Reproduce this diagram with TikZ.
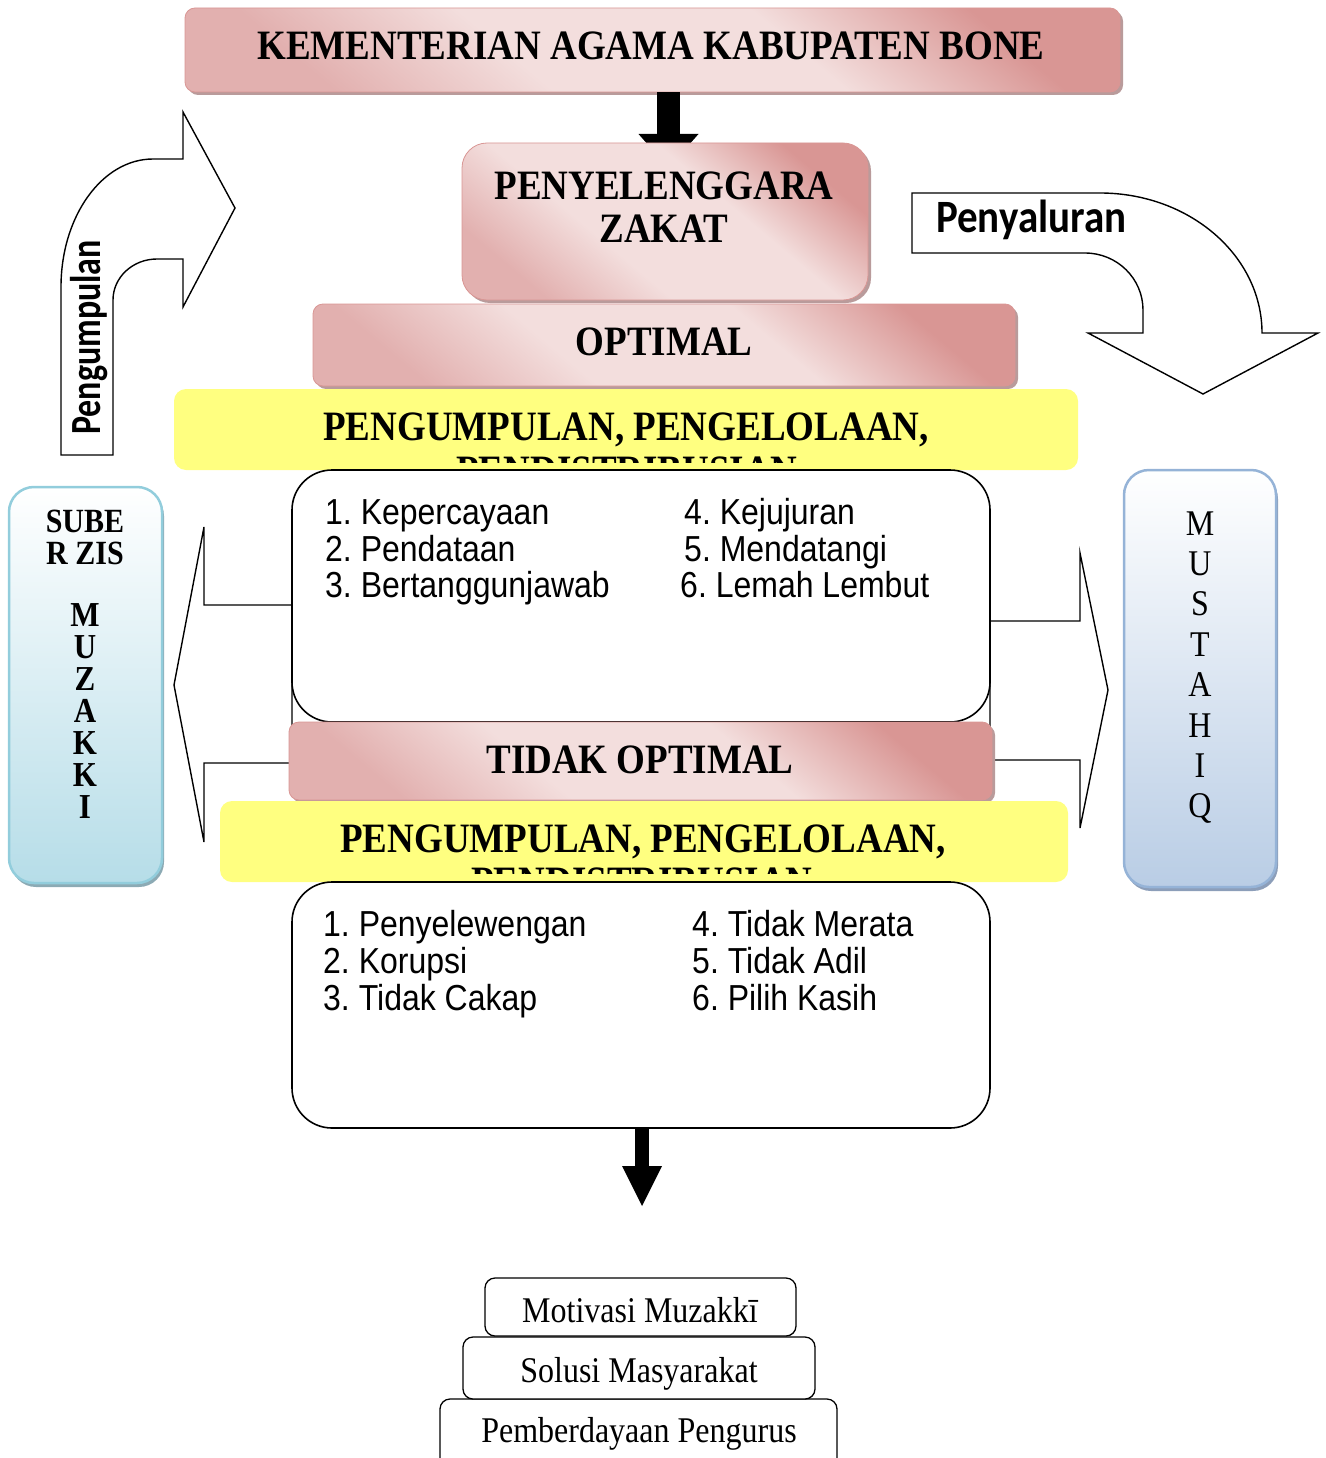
\documentclass[tikz,border=0pt]{standalone}
\usepackage{fontspec}
\setmainfont{Liberation Serif}
\newfontfamily\arialf{Liberation Sans}
\newfontfamily\calibf{Carlito}
\usepackage{graphicx}
\usetikzlibrary{shadows,calc}
\definecolor{pdark}{RGB}{217,150,148}
\definecolor{pmid}{RGB}{226,176,175}
\definecolor{plight}{RGB}{243,222,221}
\definecolor{pshadow}{RGB}{185,155,155}
\definecolor{yel}{RGB}{255,255,128}
\definecolor{blueLb}{RGB}{146,205,220}
\definecolor{blueLf}{RGB}{182,221,232}
\definecolor{blueLs}{RGB}{140,170,180}
\definecolor{blueMb}{RGB}{149,179,215}
\definecolor{blueMf}{RGB}{185,205,229}
\definecolor{blueMs}{RGB}{140,158,185}
\pgfdeclareverticalshading{pinkshade}{100bp}{color(0bp)=(pmid); color(25bp)=(pmid); color(40bp)=(plight); color(60bp)=(plight); color(75bp)=(pdark); color(100bp)=(pdark)}
\newcommand\tx[1]{\scalebox{1}[1.13]{#1}}
\newcommand\hd{\fontsize{37}{40}\selectfont\bfseries}
\newcommand\ls{\arialf\fontsize{32}{36}\selectfont}
\newcommand\bt{\fontsize{32}{36}\selectfont}
\frenchspacing
\begin{document}
\begin{tikzpicture}[x=1pt,y=-1pt,
  pinkbox/.style={draw=pdark, line width=0.8pt, shading=pinkshade, shading angle=-40, rounded corners=10pt, inner sep=0pt, outer sep=0pt, drop shadow={shadow xshift=3pt,shadow yshift=-3pt,fill=pshadow,opacity=1}},
  yelbox/.style={fill=yel, rounded corners=12pt, inner sep=0pt, outer sep=0pt},
  whitebox/.style={draw=black, fill=white, line width=1.6pt, rounded corners=40pt, inner sep=0pt, outer sep=0pt},
  plainbox/.style={draw=black, fill=white, line width=1.3pt, rounded corners=10pt, inner sep=0pt, outer sep=0pt},
  blockarrow/.style={draw=black, fill=white, line width=1.4pt, line join=miter},
  lbl/.style={anchor=base, inner sep=0pt},
  lblw/.style={anchor=base west, inner sep=0pt}
]
\useasboundingbox (0,0) rectangle (1325,1458);

% side block arrows (behind)
\draw[blockarrow] (292,605) -- (204,605) -- (204,527) -- (174,685) -- (204,842) -- (204,763) -- (292,763) -- cycle;
\draw[blockarrow] (990,621) -- (1080,621) -- (1080,553) -- (1108,690) -- (1080,828) -- (1080,760) -- (990,760) -- cycle;

% Pengumpulan curved arrow
\draw[blockarrow] (61,455) -- (61,287) arc[start angle=180, end angle=270, x radius=92, y radius=128]
  -- (183,159) -- (183,112) -- (235,208) -- (183,307) -- (183,259) -- (157,259)
  arc[start angle=270, end angle=180, x radius=44, y radius=41] -- (113,455) -- cycle;
\node[anchor=base, inner sep=0pt, rotate=90] (pengT) at (100,337.5) {\calibf\fontsize{43}{46}\selectfont\bfseries\scalebox{0.79}[1]{Pengumpulan}};

% Penyaluran curved arrow
\draw[blockarrow] (912,193) -- (1100,193) arc[start angle=270, end angle=360, x radius=162, y radius=140]
  -- (1318,333) -- (1203,394) -- (1088,333) -- (1143,333) -- (1143,310)
  arc[start angle=0, end angle=-90, x radius=58, y radius=57] -- (912,253) -- cycle;
\node[lblw] (penyT) at (936,232) {\tx{\calibf\fontsize{41}{44}\selectfont\bfseries Penyaluran}};

% title
\node[pinkbox, minimum width=935pt, minimum height=84pt] (title) at (652.5,50) {};
\node[lbl] (titleT) at (651,60) {\tx{\hd KEMENTERIAN AGAMA KABUPATEN BONE}};

% top arrow
\coordinate (ta) at (668.5,168);
\fill (title.south -| ta) ++(-11.5,0) rectangle ($(ta)+(11.5,-34)$);
\fill ($(ta)+(-30,-34)$) -- ($(ta)+(30,-34)$) -- (ta) -- cycle;

% penyelenggara
\node[pinkbox, rounded corners=25pt, minimum width=406pt, minimum height=157pt] (peny) at (665,221.5) {};
\node[lbl] (peny1) at (664,200) {\tx{\hd PENYELENGGARA}};
\node[lbl] (peny2) at (664,242) {\tx{\hd ZAKAT}};

% optimal
\node[pinkbox, minimum width=702pt, minimum height=82pt] (opt) at (664,345) {};
\node[lbl] (optT) at (664,355) {\tx{\hd OPTIMAL}};

% yellow 1
\node[yelbox, minimum width=904pt, minimum height=81pt] (yel1) at (626,429.5) {};
\begin{scope}
\clip (174,389) rectangle (1078,462);
\node[lbl] (yel1a) at (626,440) {\tx{\hd PENGUMPULAN, PENGELOLAAN,}};
\node[lbl] (yel1b) at (627,484) {\tx{\hd PENDISTRIBUSIAN}};
\end{scope}

% white box 1
\node[whitebox, minimum width=698pt, minimum height=252pt] (wb1) at (641,596) {};
\node[lblw] (a1) at (325,524) {\tx{\ls 1. Kepercayaan}};
\node[lblw] (a2) at (325,561) {\tx{\ls 2. Pendataan}};
\node[lblw] (a3) at (325,597) {\tx{\ls 3. Bertanggunjawab}};
\node[lblw] (a4) at (684,524) {\tx{\ls 4. Kejujuran}};
\node[lblw] (a5) at (684,561) {\tx{\ls 5. Mendatangi}};
\node[lblw] (a6) at (680,597) {\tx{\ls 6. Lemah Lembut}};

% tidak optimal
\node[pinkbox, minimum width=703pt, minimum height=78pt] (tidak) at (640.5,761) {};
\node[lbl] (tidakT) at (640,773) {\tx{\hd TIDAK OPTIMAL}};

% yellow 2
\node[yelbox, minimum width=848pt, minimum height=81pt] (yel2) at (644,841.5) {};
\begin{scope}
\clip (220,801) rectangle (1068,873);
\node[lbl] (yel2a) at (643,852) {\tx{\hd PENGUMPULAN, PENGELOLAAN,}};
\node[lbl] (yel2b) at (642,895) {\tx{\hd PENDISTRIBUSIAN}};
\end{scope}

% white box 2
\node[whitebox, minimum width=698pt, minimum height=246pt] (wb2) at (641,1005) {};
\node[lblw] (b1) at (323,936) {\tx{\ls 1. Penyelewengan}};
\node[lblw] (b2) at (323,973) {\tx{\ls 2. Korupsi}};
\node[lblw] (b3) at (323,1010) {\tx{\ls 3. Tidak Cakap}};
\node[lblw] (b4) at (692,936) {\tx{\ls 4. Tidak Merata}};
\node[lblw] (b5) at (692,973) {\tx{\ls 5. Tidak Adil}};
\node[lblw] (b6) at (692,1010) {\tx{\ls 6. Pilih Kasih}};

% bottom arrow
\coordinate (ba) at (642,1206);
\fill (wb2.south -| ba) ++(-7,0) rectangle ($(ba)+(7,-39)$);
\fill ($(ba)+(-20,-40)$) -- ($(ba)+(20,-40)$) -- (ba) -- cycle;

% SUBER ZIS box
\node[draw=blueLb, line width=2.5pt, top color=white, bottom color=blueLf, rounded corners=25pt, minimum width=153pt, minimum height=396pt, inner sep=0pt, outer sep=0pt, drop shadow={shadow xshift=2pt,shadow yshift=-4pt,fill=blueLs,opacity=1}] (suber) at (85.5,685) {};
\node[lbl] (sub1) at (85,532) {\tx{\fontsize{30}{33}\selectfont\bfseries SUBE}};
\node[lbl] (sub2) at (85,564) {\tx{\fontsize{30}{33}\selectfont\bfseries R ZIS}};
\foreach \l [count=\i] in {M,U,Z,A,K,K,I}
  \node[lbl] (mz\i) at (85,{626.6+32*(\i-1)}) {\tx{\fontsize{31}{34}\selectfont\bfseries \l}};

% MUSTAHIQ box
\node[draw=blueMb, line width=2.5pt, top color=white, bottom color=blueMf, rounded corners=25pt, minimum width=152pt, minimum height=417pt, inner sep=0pt, outer sep=0pt, drop shadow={shadow xshift=2pt,shadow yshift=-4pt,fill=blueMs,opacity=1}] (must) at (1200,678.5) {};
\foreach \l [count=\i] in {M,U,S,T,A,H,I,Q}
  \node[lbl] (ms\i) at (1200,{535+40.4*(\i-1)}) {\tx{\fontsize{32}{34}\selectfont \l}};

% bottom stacked boxes
\node[plainbox, minimum width=397pt, minimum height=71pt] (pem) at (638.5,1434.5) {};
\node[plainbox, minimum width=352pt, minimum height=62pt] (sol) at (639,1368) {};
\node[plainbox, minimum width=311pt, minimum height=58pt] (mot) at (640.5,1307) {};
\node[lbl] (motT) at (640,1322) {\tx{\bt Motivasi Muzakk\=\i}};
\node[lbl] (solT) at (639,1382) {\tx{\bt Solusi Masyarakat}};
\node[lbl] (pemT) at (639,1442) {\tx{\bt Pemberdayaan Pengurus}};
\end{tikzpicture}
\end{document}
